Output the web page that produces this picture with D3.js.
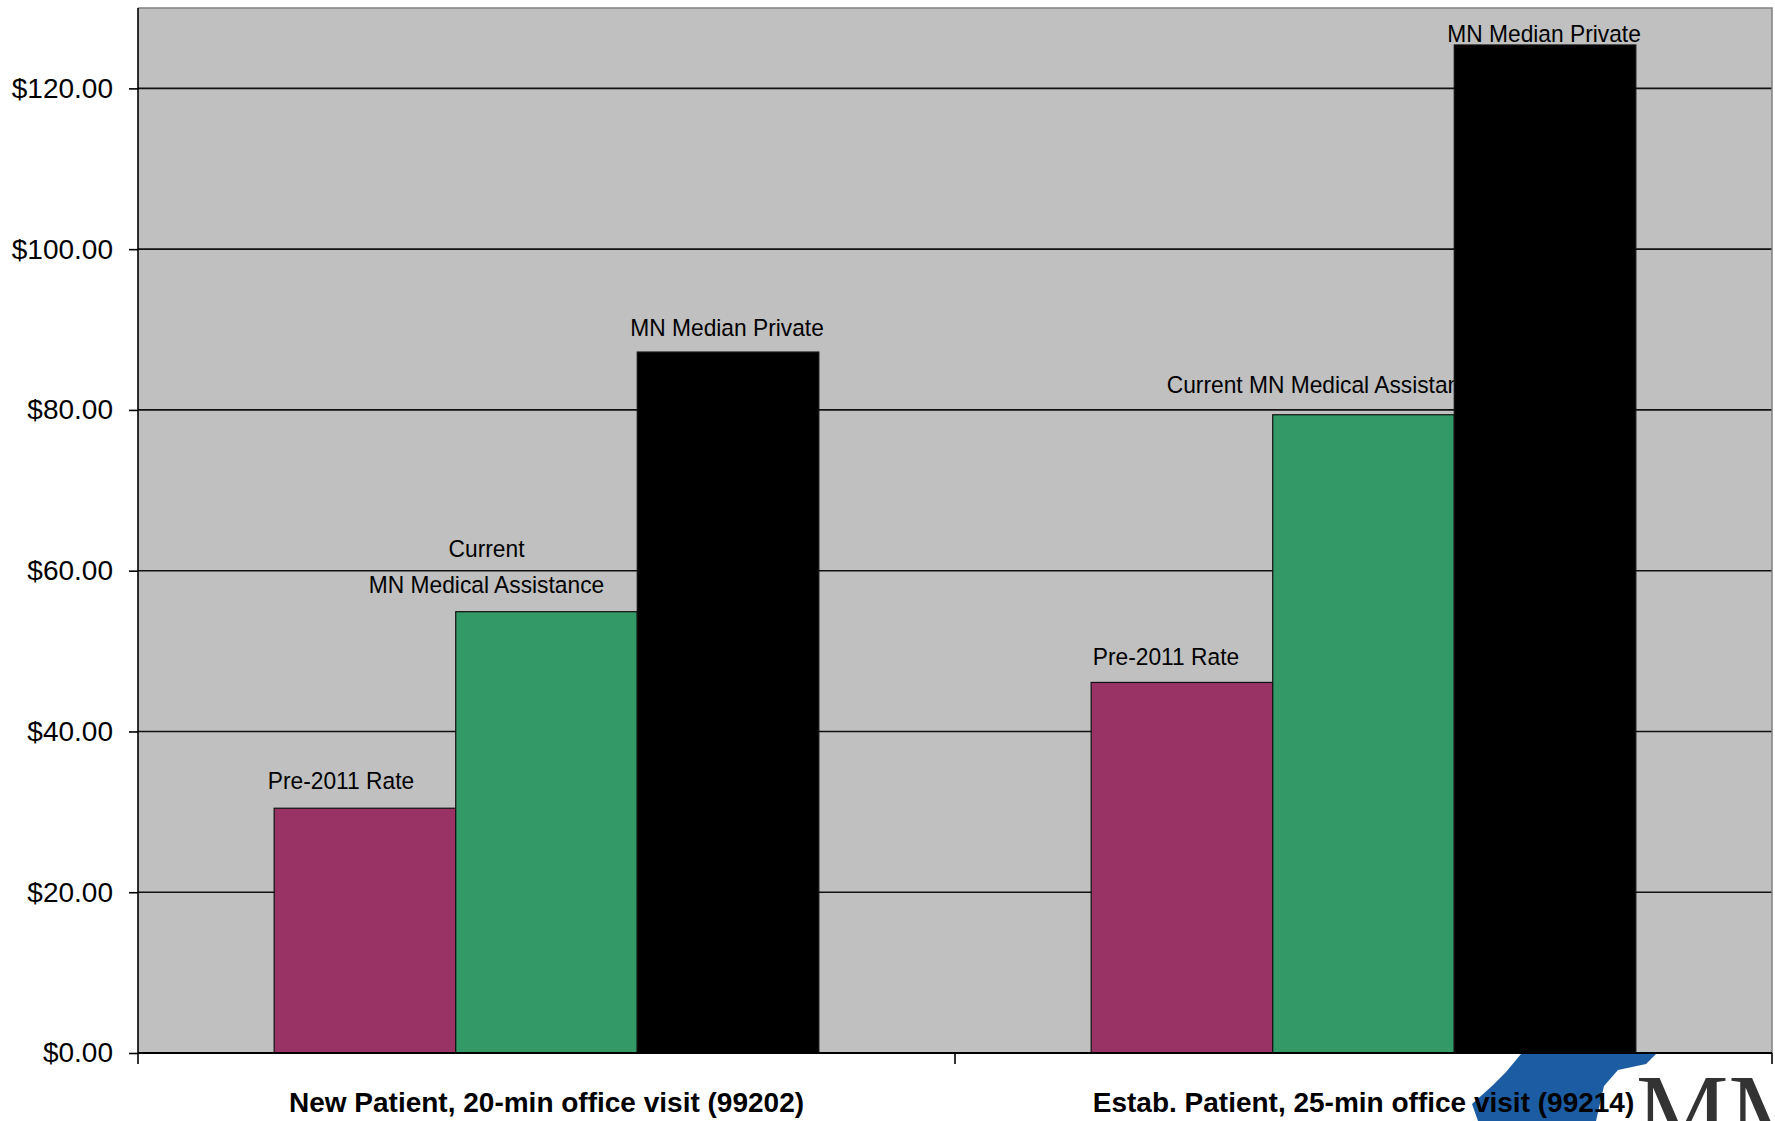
<!DOCTYPE html>
<html>
<head>
<meta charset="utf-8">
<script src="https://cdn.jsdelivr.net/npm/d3@7"></script>
<style>
  html, body { margin: 0; padding: 0; background: #fff; overflow: hidden; }
  svg { display: block; font-family: "Liberation Sans", Arial, sans-serif; }
</style>
</head>
<body>
<div id="chart"></div>
<script>
// Office visit payment rates, two visit types, three rate series
const categories = [
  'New Patient, 20-min office visit (99202)',
  'Estab. Patient, 25-min office visit (99214)'
];
const series = ['Pre-2011 Rate', 'Current MN Medical Assistance', 'MN Median Private'];
const pre2011 = [30.45, 46.1];
const currentMA = [54.9, 79.4];
const medianPrivate = [87.2, 125.4];
const yTicks = [0, 20, 40, 60, 80, 100, 120];

// label text per category (arrays = multi-line)
const labelTexts = [
  ['Pre-2011 Rate', ['Current', 'MN Medical Assistance'], 'MN Median Private'],
  ['Pre-2011 Rate', 'Current MN Medical Assistance', 'MN Median Private']
];
// hand placed labels, [dx from bar centre, dy of last baseline from bar top]
const labelOffsets = [
  [[-24, -19], [-60, -19], [-1, -16]],
  [[-16, -17], [-38, -22], [-1, -3]]
];

const colors = ['#993366', '#339966', '#000000'];

const width = 1775, height = 1121;
const plot = { left: 138, right: 1772, top: 8, bottom: 1053 };

const rows = categories.map((c, i) => ({
  category: c,
  values: [pre2011[i], currentMA[i], medianPrivate[i]]
}));

const svg = d3.select('#chart').append('svg')
  .attr('width', width)
  .attr('height', height);

const x0 = d3.scaleBand()
  .domain(categories)
  .range([plot.left, plot.right])
  .paddingInner(0)
  .paddingOuter(0);

const x1 = d3.scaleBand()
  .domain(series)
  .range([0, x0.bandwidth()])
  .paddingInner(0)
  .paddingOuter(0.75);

const y = d3.scaleLinear()
  .domain([0, 130])
  .range([plot.bottom, plot.top]);

// logo fragment in the bottom right corner (background art)
const logo = svg.append('g').attr('class', 'logo');
logo.append('path')
  .attr('d', 'M1521,1054 L1656,1054 L1646,1064 L1618,1070 L1604,1086 L1596,1121 L1478,1121 L1472,1104 L1492,1086 L1506,1072 Z')
  .attr('fill', '#1b5ca3');
logo.append('text')
  .attr('x', 1636)
  .attr('y', 1146)
  .style('font-family', '"Liberation Serif", "DejaVu Serif", serif')
  .style('font-size', '104px')
  .attr('fill', '#333333')
  .text('MMA');

// plot background
svg.append('rect')
  .attr('x', plot.left)
  .attr('y', plot.top)
  .attr('width', plot.right - plot.left)
  .attr('height', plot.bottom - plot.top)
  .attr('fill', '#c0c0c0');

// gridlines
svg.append('g')
  .selectAll('line')
  .data(yTicks.filter(d => d > 0))
  .join('line')
  .attr('x1', plot.left)
  .attr('x2', plot.right)
  .attr('y1', d => y(d))
  .attr('y2', d => y(d))
  .attr('stroke', '#111')
  .attr('stroke-width', 1.6);

// plot border (top and right)
svg.append('path')
  .attr('d', `M${plot.left},${plot.top} H${plot.right} V${plot.bottom}`)
  .attr('fill', 'none')
  .attr('stroke', '#808080')
  .attr('stroke-width', 1.5);

// data labels, drawn before the bars so the bars can cover them
const labels = svg.append('g').attr('class', 'labels');
rows.forEach((row, ci) => {
  series.forEach((s, si) => {
    const cx = x0(row.category) + x1(s) + x1.bandwidth() / 2 + labelOffsets[ci][si][0];
    const baseY = y(row.values[si]) + labelOffsets[ci][si][1];
    let lines = labelTexts[ci][si];
    if (!Array.isArray(lines)) lines = [lines];
    lines.forEach((line, li) => {
      labels.append('text')
        .attr('transform', `translate(${cx},${baseY - (lines.length - 1 - li) * 35.5}) scale(0.93,1)`)
        .attr('text-anchor', 'middle')
        .style('font-size', '24.5px')
        .attr('fill', '#000')
        .text(line);
    });
  });
});

// bars
const groups = svg.append('g')
  .selectAll('g')
  .data(rows)
  .join('g')
  .attr('transform', d => `translate(${x0(d.category)},0)`);

groups.selectAll('rect')
  .data(d => d.values.map((v, i) => ({ key: series[i], value: v, i })))
  .join('rect')
  .attr('x', d => x1(d.key))
  .attr('y', d => y(d.value))
  .attr('width', x1.bandwidth())
  .attr('height', d => y(0) - y(d.value))
  .attr('fill', d => colors[d.i])
  .attr('stroke', '#111')
  .attr('stroke-width', 1.2);

// y axis
const yAxis = svg.append('g')
  .attr('transform', `translate(${plot.left},0)`)
  .call(d3.axisLeft(y)
    .tickValues(yTicks)
    .tickSize(9)
    .tickPadding(16)
    .tickFormat(d => '$' + d3.format('.2f')(d)));
yAxis.select('.domain')
  .attr('stroke', '#000')
  .attr('stroke-width', 1.6)
  .attr('d', `M0,${plot.top}V${plot.bottom}`);
yAxis.selectAll('.tick line').attr('stroke', '#000').attr('stroke-width', 1.6);
yAxis.selectAll('.tick text')
  .attr('fill', '#000')
  .style('font-size', '28px')
  .style('font-family', '"Liberation Sans", Arial, sans-serif');

// x axis with category labels
const xAxis = svg.append('g')
  .attr('transform', `translate(0,${plot.bottom})`)
  .call(d3.axisBottom(x0).tickSize(0).tickPadding(39));
xAxis.select('.domain')
  .attr('stroke', '#000')
  .attr('stroke-width', 2)
  .attr('d', `M${plot.left},0H${plot.right}`);
xAxis.selectAll('.tick text')
  .attr('fill', '#000')
  .style('font-size', '28px')
  .style('font-weight', 'bold')
  .style('font-family', '"Liberation Sans", Arial, sans-serif');

// tick marks between categories
const boundaries = categories.map(c => x0(c)).concat([x0.range()[1]]);
xAxis.append('g')
  .selectAll('line')
  .data(boundaries)
  .join('line')
  .attr('x1', d => d)
  .attr('x2', d => d)
  .attr('y1', 0)
  .attr('y2', 11)
  .attr('stroke', '#000')
  .attr('stroke-width', 1.6);
</script>
</body>
</html>
